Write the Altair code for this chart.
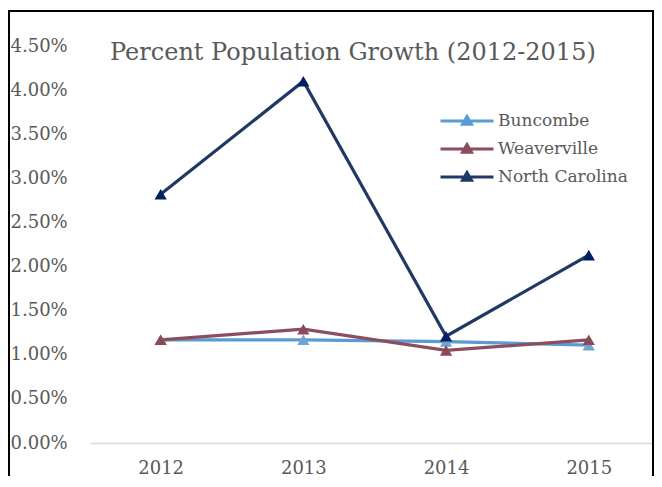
import altair as alt
import pandas as pd

years = ["2012", "2013", "2014", "2015"]
series_names = ["Buncombe", "Weaverville", "North Carolina"]
buncombe = [0.0117, 0.0117, 0.0115, 0.0111]
weaverville = [0.0117, 0.0129, 0.0105, 0.0117]
north_carolina = [0.0282, 0.0410, 0.0121, 0.0213]
y_ticks = [0.0, 0.005, 0.01, 0.015, 0.02, 0.025, 0.03, 0.035, 0.04, 0.045]

line_colors = ["#5b9bd5", "#8c4d5c", "#1f3864"]
point_colors = ["#70a3d0", "#8b4a5a", "#002060"]

rows = []
for name, vals in zip(series_names, [buncombe, weaverville, north_carolina]):
    for y, v in zip(years, vals):
        rows.append({"Year": y, "Series": name, "Growth": v})
df = pd.DataFrame(rows)

FONT = "DejaVu Serif"
GREY = "#595959"

x_enc = alt.X("Year:N", sort=years,
              scale=alt.Scale(type="point", padding=0.476, align=0.52),
              axis=alt.Axis(title=None, labelAngle=0, ticks=False, labelPadding=16,
                            domainColor="#d9d9d9", domainWidth=1.5,
                            labelFont=FONT, labelFontSize=18, labelColor=GREY, grid=False))
y_enc = alt.Y("Growth:Q",
              scale=alt.Scale(domain=[0, 0.045], nice=False, zero=True),
              axis=alt.Axis(title=None, values=y_ticks, format=".2%", ticks=False,
                            domain=False, grid=False, labelAlign="left", labelPadding=80,
                            labelFont=FONT, labelFontSize=18, labelColor=GREY))

sym_path = "M-1,0H1M-0.17,0.12L0,-0.17L0.17,0.12Z"

def make_legend():
    return alt.Legend(title=None, orient="none", legendX=349, legendY=68,
                      symbolType=sym_path, symbolSize=2809,
                      symbolStrokeWidth=3, clipHeight=14, rowPadding=11,
                      labelFont=FONT, labelFontSize=17, labelColor=GREY,
                      labelOffset=3)

base = alt.Chart(df)
lines = base.mark_line(strokeWidth=3.2).encode(
    x=x_enc, y=y_enc,
    stroke=alt.Stroke("Series:N", sort=series_names,
                      scale=alt.Scale(domain=series_names, range=line_colors),
                      legend=make_legend()),
    order=alt.Order("Year:N"),
)
points = base.mark_point(shape="triangle-up", filled=True, size=150, opacity=1).encode(
    x=x_enc, y=y_enc,
    fill=alt.Fill("Series:N", sort=series_names,
                  scale=alt.Scale(domain=series_names, range=point_colors),
                  legend=make_legend()),
)

frame = alt.Chart(pd.DataFrame({"f": [0]})).mark_rect(
    fill="transparent", stroke="black", strokeWidth=2
).encode(x=alt.value(-81), x2=alt.value(563), y=alt.value(-35), y2=alt.value(470))

chart = alt.layer(frame, lines, points).properties(
    width=564, height=397,
    padding={"left": 82, "top": 38, "right": 0, "bottom": 33},
    autosize=alt.AutoSizeParams(type="none"),
    title=alt.TitleParams("Percent Population Growth (2012-2015)", anchor="start",
                          dx=102, dy=78, baseline="alphabetic",
                          font=FONT, fontSize=24, fontWeight="normal", color=GREY),
    background="white",
).configure_view(stroke=None)

chart.save("out.html", embed_options={"renderer": "svg", "actions": False})
